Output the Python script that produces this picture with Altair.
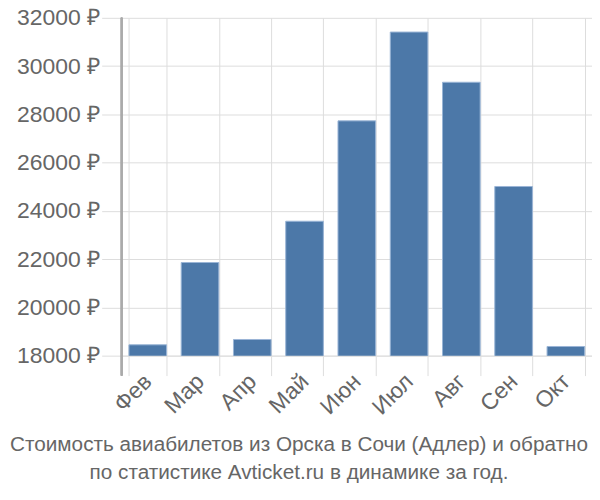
import altair as alt
import pandas as pd

months = ["Фев", "Мар", "Апр", "Май", "Июн", "Июл", "Авг", "Сен", "Окт"]
prices = [18450, 21860, 18670, 23570, 27730, 31410, 29330, 25010, 18380]

df = pd.DataFrame({"month": months, "price": prices})

W, H = 472, 339

bars = alt.Chart(df).mark_bar(
    color="#4c78a8", stroke="#9ab5d6", strokeWidth=1, clip=True
).encode(
    x=alt.X("month:N", sort=months, title=None,
            scale=alt.Scale(paddingInner=0.28, paddingOuter=0.14),
            axis=alt.Axis(tickBand="extent", labelAngle=-45, labelAlign="right",
                          labelBaseline="middle", labelFontSize=23, labelColor="#666666",
                          labelFont="Liberation Sans", tickSize=20, tickColor="#dddddd",
                          gridColor="#dddddd", grid=True, domainColor="#dddddd",
                          labelPadding=2)),
    y=alt.Y("price:Q", title=None,
            scale=alt.Scale(domain=[18000, 32000], zero=False, nice=False),
            axis=alt.Axis(values=[18000, 20000, 22000, 24000, 26000, 28000, 30000, 32000],
                          labelExpr="datum.value + ' ₽'", labelFontSize=23,
                          labelColor="#666666", labelFont="Liberation Sans",
                          tickSize=20, tickColor="#dddddd", gridColor="#dddddd",
                          domain=False, labelPadding=2)),
)

yline = alt.Chart(df).mark_rule(color="#aaaaaa", strokeWidth=1.5).encode(
    x=alt.value(0), y=alt.value(0), y2=alt.value(H + 20)
)

chart = alt.layer(bars, yline).properties(
    width=W, height=H,
    autosize=alt.AutoSizeParams(type="none"),
    padding={"left": 114, "top": 9, "right": 0, "bottom": 150},
    title=alt.Title(
        ["Стоимость авиабилетов из Орска в Сочи (Адлер) и обратно",
         "по статистике Avticket.ru в динамике за год."],
        orient="bottom", anchor="middle", dx=-58, fontSize=20.8, lineHeight=28,
        color="#666666", font="Liberation Sans", fontWeight="normal", offset=16,
    ),
).configure_view(stroke=None)

chart.save("out.html", embed_options={"renderer": "svg", "actions": False})
